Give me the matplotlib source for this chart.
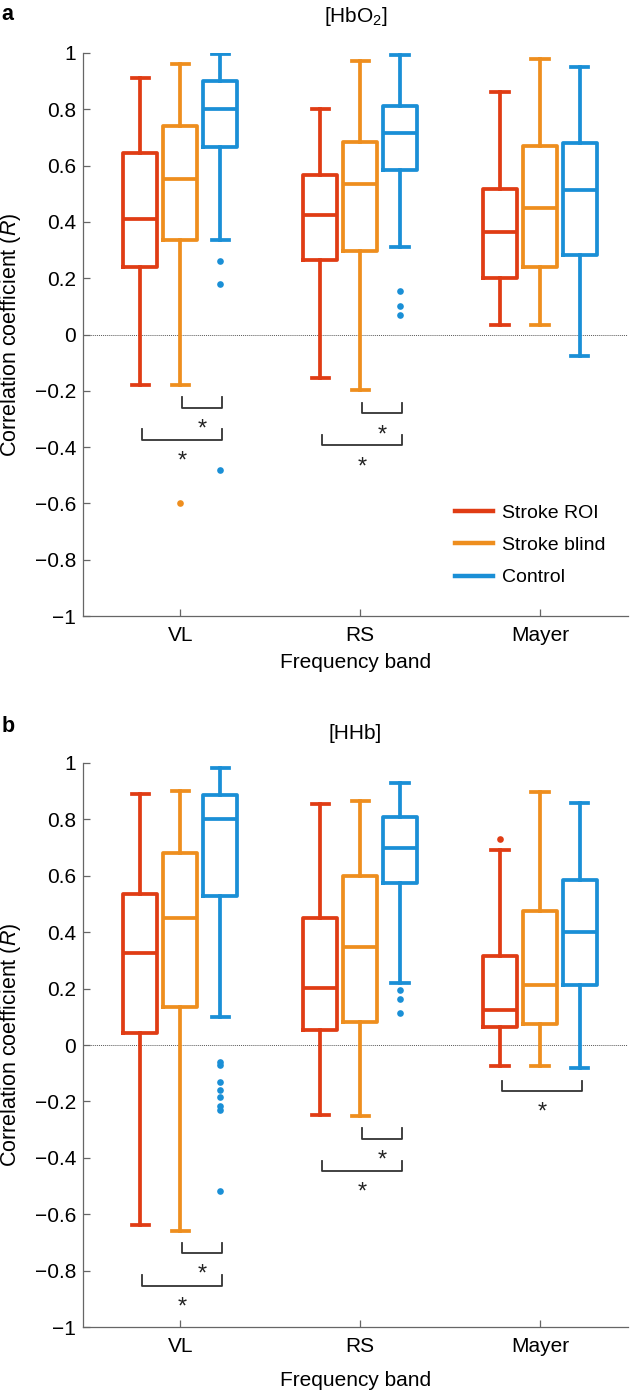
import matplotlib
matplotlib.use('Agg')
import matplotlib.pyplot as plt
from matplotlib.lines import Line2D

plt.rcParams['font.family'] = ['Liberation Sans', 'DejaVu Sans']
plt.rcParams['mathtext.fontset'] = 'custom'
plt.rcParams['mathtext.rm'] = 'Liberation Sans'
plt.rcParams['mathtext.it'] = 'Liberation Sans:italic'

bands = ['VL', 'RS', 'Mayer']
groups = ['Stroke ROI', 'Stroke blind', 'Control']
colors = ['#e03c14', '#ee8e1e', '#1a8fd6']
yticks = [-1, -0.8, -0.6, -0.4, -0.2, 0, 0.2, 0.4, 0.6, 0.8, 1]
ytick_labels = ['\u22121', '\u22120.8', '\u22120.6', '\u22120.4', '\u22120.2',
                '0', '0.2', '0.4', '0.6', '0.8', '1']

# box stats per band: [whislo, q1, med, q3, whishi]
hbo2_roi = [[-0.18, 0.24, 0.41, 0.645, 0.91],
            [-0.156, 0.263, 0.426, 0.568, 0.80],
            [0.035, 0.20, 0.365, 0.518, 0.863]]
hbo2_blind = [[-0.18, 0.337, 0.553, 0.74, 0.96],
              [-0.198, 0.298, 0.533, 0.682, 0.97],
              [0.035, 0.239, 0.448, 0.671, 0.977]]
hbo2_ctrl = [[0.337, 0.667, 0.80, 0.90, 0.995],
             [0.31, 0.583, 0.714, 0.81, 0.991],
             [-0.077, 0.284, 0.513, 0.681, 0.95]]
hbo2_roi_out = [[], [], []]
hbo2_blind_out = [[-0.60], [], []]
hbo2_ctrl_out = [[0.26, 0.18, -0.483], [0.153, 0.10, 0.071], []]

hhb_roi = [[-0.638, 0.043, 0.326, 0.535, 0.89],
           [-0.248, 0.053, 0.202, 0.45, 0.855],
           [-0.075, 0.063, 0.124, 0.316, 0.69]]
hhb_blind = [[-0.66, 0.135, 0.45, 0.681, 0.90],
             [-0.252, 0.082, 0.347, 0.60, 0.866],
             [-0.075, 0.074, 0.213, 0.475, 0.898]]
hhb_ctrl = [[0.099, 0.528, 0.80, 0.887, 0.982],
            [0.22, 0.575, 0.699, 0.81, 0.929],
            [-0.08, 0.213, 0.401, 0.585, 0.858]]
hhb_roi_out = [[], [], [0.73]]
hhb_blind_out = [[], [], []]
hhb_ctrl_out = [[-0.062, -0.072, -0.13, -0.16, -0.183, -0.215, -0.232, -0.518],
                [0.195, 0.163, 0.114], []]

# significance brackets: (band, group from, group to, level)
hbo2_sig = [(0, 1, 2, -0.26), (0, 0, 2, -0.373),
            (1, 1, 2, -0.28), (1, 0, 2, -0.394)]
hhb_sig = [(0, 1, 2, -0.738), (0, 0, 2, -0.854),
           (1, 1, 2, -0.333), (1, 0, 2, -0.447),
           (2, 0, 2, -0.163)]

offsets = [-0.222, 0.0, 0.222]
box_w = 0.19
lw = 2.7


def draw_panel(ax, boxes, outliers, sig, title, title_pad, xlab_pad):
    ax.axhline(0, color='0.35', lw=0.7, ls=(0, (1, 1)), zorder=0)
    for g in range(3):
        stats = []
        for b in range(3):
            lo, q1, med, q3, hi = boxes[g][b]
            stats.append(dict(whislo=lo, q1=q1, med=med, q3=q3, whishi=hi,
                              fliers=outliers[g][b]))
        c = colors[g]
        line = dict(color=c, linewidth=lw, solid_joinstyle='round')
        ax.bxp(stats, positions=[b + 1 + offsets[g] for b in range(3)],
               widths=box_w, manage_ticks=False,
               boxprops=line, whiskerprops=line, capprops=line,
               medianprops=line,
               flierprops=dict(marker='o', markerfacecolor=c,
                               markeredgecolor='none', markersize=4.8))

    for b, i, j, y in sig:
        x0 = b + 1 + offsets[i] + 0.01
        x1 = b + 1 + offsets[j] + 0.01
        h = 0.037
        ax.plot([x0, x0, x1, x1], [y + h, y, y, y + h], color='#333333', lw=1.3)
        ax.annotate('*', xy=((x0 + x1) / 2, y), xytext=(0, -20),
                    textcoords='offset points', ha='center', va='baseline',
                    fontsize=17, color='#222222')

    ax.set_xlim(0.46, 3.49)
    ax.set_ylim(-1, 1)
    ax.set_xticks([1, 2, 3])
    ax.set_xticklabels(bands)
    ax.set_yticks(yticks)
    ax.set_yticklabels(ytick_labels)
    ax.tick_params(direction='in', length=5, width=0.9, color='#666666',
                   labelsize=15, pad=5)
    ax.tick_params(axis='x', pad=7)
    for s in ['top', 'right']:
        ax.spines[s].set_visible(False)
    for s in ['left', 'bottom']:
        ax.spines[s].set_color('#666666')
        ax.spines[s].set_linewidth(0.9)
    ax.set_xlabel('Frequency band', fontsize=15, labelpad=xlab_pad)
    ax.set_title(title, fontsize=15, pad=title_pad)


fig = plt.figure(figsize=(6.34, 13.9), dpi=100)
ax1 = fig.add_axes([0.131, 0.5568, 0.8597, 0.4051])
ax2 = fig.add_axes([0.131, 0.0453, 0.8597, 0.4058])

draw_panel(ax1, [hbo2_roi, hbo2_blind, hbo2_ctrl],
           [hbo2_roi_out, hbo2_blind_out, hbo2_ctrl_out],
           hbo2_sig, '[HbO$_2$]', 22, 6)
draw_panel(ax2, [hhb_roi, hhb_blind, hhb_ctrl],
           [hhb_roi_out, hhb_blind_out, hhb_ctrl_out],
           hhb_sig, '[HHb]', 17, 11)

handles = [Line2D([], [], color=c, lw=3.2) for c in colors]
ax1.legend(handles, groups, loc='upper left', bbox_to_anchor=(0.683, 0.199),
           frameon=False, fontsize=14, handlelength=1.95, handletextpad=0.45,
           labelspacing=0.76, borderpad=0, borderaxespad=0)

ylab = 'Correlation coefficient ($\\mathit{R}$)'
fig.text(11 / 634, 1 - 334.5 / 1390, ylab, rotation=90, ha='center',
         va='center', fontsize=15.5)
fig.text(11 / 634, 1 - 1045 / 1390, ylab, rotation=90, ha='center',
         va='center', fontsize=15.5)

fig.text(0.002, 1 - 20 / 1390, 'a', fontsize=15.5, fontweight='bold',
         ha='left', va='baseline')
fig.text(0.003, 1 - 732 / 1390, 'b', fontsize=15.5, fontweight='bold',
         ha='left', va='baseline')

fig.savefig('out.png', dpi=100)
